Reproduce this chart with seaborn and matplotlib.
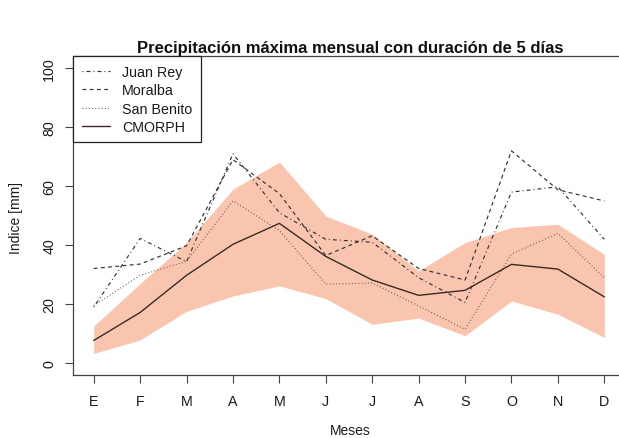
import numpy as np
import pandas as pd
import matplotlib
matplotlib.use("Agg")
import matplotlib.pyplot as plt
import seaborn as sns

# ---- data ----
meses = ["E", "F", "M", "A", "M", "J", "J", "A", "S", "O", "N", "D"]
mes_idx = list(range(1, 13))
juan_rey = [19.0, 42.3, 34.4, 71.0, 51.0, 42.0, 41.0, 29.0, 20.6, 58.0, 59.8, 42.0]
moralba = [32.1, 33.6, 39.8, 69.0, 57.5, 36.5, 43.2, 32.1, 28.2, 72.0, 58.8, 55.0]
san_benito = [19.5, 29.8, 34.5, 55.0, 45.0, 26.8, 27.2, 19.4, 11.5, 37.0, 44.0, 29.0]
cmorph = [7.7, 17.2, 29.8, 40.3, 47.4, 36.2, 28.2, 23.0, 24.7, 33.5, 31.9, 22.5]
banda_sup = [12.6, 27.0, 40.9, 59.0, 68.2, 49.9, 43.7, 31.3, 40.9, 46.0, 47.1, 36.9]
banda_inf = [3.3, 7.9, 17.6, 22.8, 26.2, 21.9, 13.2, 15.3, 9.3, 21.1, 16.6, 8.7]
y_ticks = [0, 20, 40, 60, 80, 100]

titulo = "Precipitación máxima mensual con duración de 5 días"
series_nombres = ["Juan Rey", "Moralba", "San Benito", "CMORPH"]

sns.set_style("white")
plt.rcParams['font.family'] = ['Liberation Sans', 'DejaVu Sans']
plt.rcParams['lines.scale_dashes'] = False

W, H = 619, 439
fig = plt.figure(figsize=(W / 100, H / 100), dpi=100)
ax_left, ax_right, ax_top, ax_bottom = 73.3, 624.7, 57.4, 376.0
ax = fig.add_axes([ax_left / W, 1 - ax_bottom / H, (ax_right - ax_left) / W, (ax_bottom - ax_top) / H])

ax.fill_between(mes_idx, banda_inf, banda_sup, color="#f9c5ae", lw=0, zorder=1)

df = pd.DataFrame({"mes": mes_idx, "Juan Rey": juan_rey, "Moralba": moralba,
                   "San Benito": san_benito, "CMORPH": cmorph})

estilos = {
    "Juan Rey": dict(color="#333333", lw=0.85, dashes=(0.7, 2.2, 2.8, 2.2)),
    "Moralba": dict(color="#333333", lw=0.85, dashes=(2.8, 2.4)),
    "San Benito": dict(color="#6a5550", lw=0.8, dashes=(0.7, 1.6)),
    "CMORPH": dict(color="#3a2a27", lw=1.0, dashes=None),
}
for nombre in series_nombres:
    st = estilos[nombre]
    kw = dict(color=st["color"], lw=st["lw"])
    if st["dashes"] is not None:
        kw["dashes"] = st["dashes"]
    sns.lineplot(data=df, x="mes", y=nombre, ax=ax, label=nombre, zorder=3, **kw)

ax.set_xlim(0.56, 12.44)
ax.set_ylim(-4, 104)
ax.set_xticks(mes_idx)
ax.set_xticklabels(meses)
ax.set_yticks(y_ticks)
ax.set_yticklabels([str(v) for v in y_ticks], rotation=90, va="center")
ax.set_xlabel("")
ax.set_ylabel("")

for sp in ax.spines.values():
    sp.set_visible(True)
    sp.set_color("#444444")
    sp.set_linewidth(0.9)

ax.tick_params(axis="both", which="major", direction="out", length=5.5, width=0.8,
               color="#444444", labelsize=10.3, labelcolor="#1a1a1a",
               left=True, bottom=True)
ax.tick_params(axis="y", pad=6.8)
ax.tick_params(axis="x", pad=8.3)

leg = ax.legend(loc="upper left", bbox_to_anchor=(0, 1), borderaxespad=0,
                fancybox=False, frameon=True, edgecolor="#222222", framealpha=1,
                fontsize=10.3, handlelength=2.0, handletextpad=0.8,
                labelspacing=0.3, borderpad=0.6)
leg.get_frame().set_linewidth(0.9)
for t in leg.get_texts():
    t.set_color("#1a1a1a")

fig.text(350 / W, 1 - 53 / H, titulo, ha="center", va="baseline",
         fontsize=12, fontweight="bold", color="#111111")
fig.text(350 / W, 1 / H, "Meses", ha="center", va="bottom", fontsize=10, color="#1a1a1a")
fig.text(16 / W, 1 - 218 / H, "Indice [mm]", ha="center", va="center", rotation=90,
         fontsize=10, color="#1a1a1a")

fig.savefig("out.png", dpi=100)
